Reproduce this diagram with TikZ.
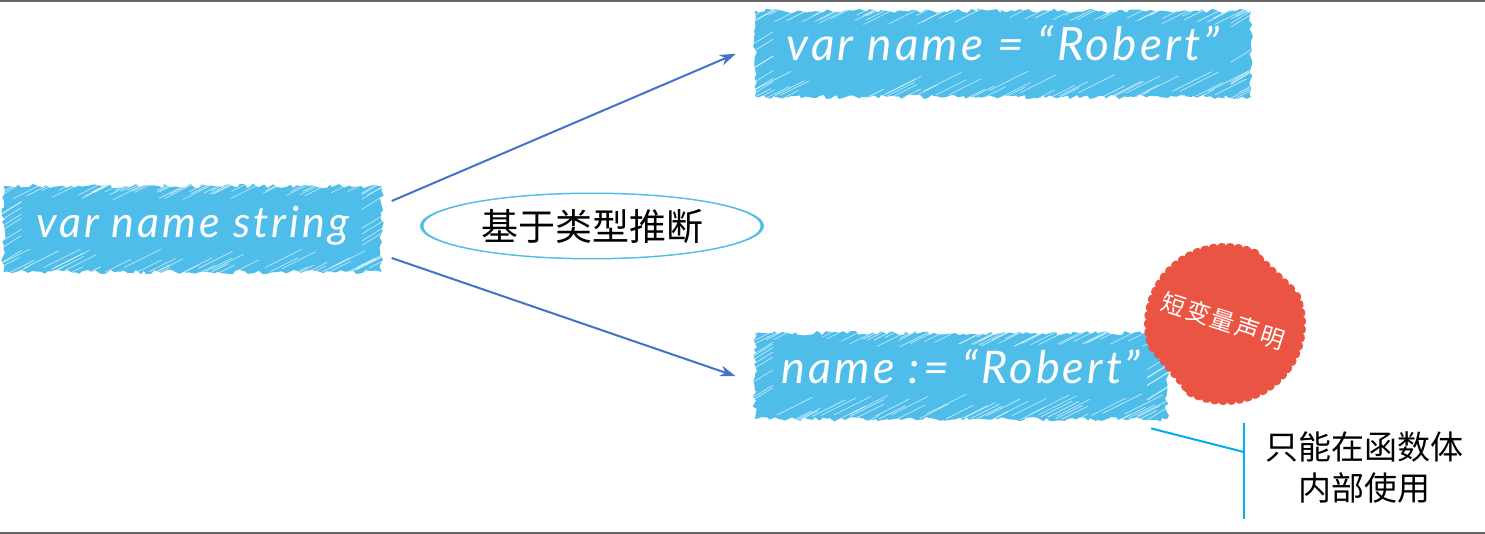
\documentclass[tikz,border=0pt]{standalone}
\usepackage{fontspec}
\setmainfont{Lato}
\newfontfamily\cjk{Noto Sans CJK SC}
\usetikzlibrary{calc,positioning,shapes.geometric,arrows.meta,decorations.pathmorphing}
\definecolor{skyfill}{HTML}{4FBDE9}
\definecolor{sealred}{HTML}{E95542}
\definecolor{arrowblue}{HTML}{4472C4}
\definecolor{noteblue}{HTML}{00AEEF}
\definecolor{framegray}{HTML}{666666}
\pgfmathsetseed{7}
\begin{document}
\begin{tikzpicture}[x=1pt,y=-1pt,
    hatch/.style={path picture={
      \foreach \X in {1,...,45} {
       \pgfmathsetmacro{\R}{rnd}
       \pgfmathsetmacro{\S}{rnd}
       \draw[white,line width=.7pt,opacity=.65]
        ($(path picture bounding box.north west)!\R!(path picture bounding box.north east)+(-12,{6+10*\S})$) -- ++({16+24*\S},{-8-12*\S});
       \pgfmathsetmacro{\R}{rnd}
       \pgfmathsetmacro{\S}{rnd}
       \draw[white,line width=.7pt,opacity=.65]
        ($(path picture bounding box.south west)!\R!(path picture bounding box.south east)+(-12,{2-10*\S})$) -- ++({16+24*\S},{-8-12*\S});
      }
      \foreach \X in {1,...,9} {
       \pgfmathsetmacro{\R}{rnd}
       \draw[white,line width=.7pt,opacity=.65]
        ($(path picture bounding box.south west)!\R!(path picture bounding box.north west)+(-6,0)$) -- ++(26,-16);
       \pgfmathsetmacro{\R}{rnd}
       \draw[white,line width=.7pt,opacity=.65]
        ($(path picture bounding box.south east)!\R!(path picture bounding box.north east)+(-22,0)$) -- ++(26,-16);
      }}},
    skybox/.style={fill=skyfill,hatch,inner sep=0pt,text=white,
      font=\itshape\fontsize{45}{45}\selectfont\addfontfeature{LetterSpace=7},
      text height=32pt,text depth=18pt,minimum height=86pt,
      decorate,decoration={random steps,segment length=4pt,amplitude=2.2pt}},
    arrowline/.style={draw=arrowblue,line width=2pt,-{Stealth[length=16pt,width=11pt]}},
    noteline/.style={draw=noteblue,line width=2pt}]
 \useasboundingbox (0,0) rectangle (1485,534);
 % frame
 \coordinate (topL) at (0,1);
 \coordinate (topR) at (1485,1);
 \coordinate (botL) at (0,533);
 \coordinate (botR) at (1485,533);
 \draw[framegray,line width=2.5pt] (topL) -- (topR) (botL) -- (botR);
 % three statements
 \node[skybox,minimum width=378pt,text depth=14pt,
   font=\itshape\fontsize{43}{43}\selectfont\addfontfeature{LetterSpace=7}] (VAR) at (192.5,229) {var name string};
 \node[skybox,minimum width=496pt,above right=132pt and 373pt of VAR.east,
   font=\itshape\fontsize{46}{46}\selectfont\addfontfeature{LetterSpace=7}] (DECL)
  {var name = “Robert”};
 \node[skybox,minimum width=412pt,below right=104pt and 373pt of VAR.east] (SHORT)
  {name := “Robert”};
 \path[arrowline] ([xshift=10pt,yshift=28pt]VAR.east) -- ([xshift=-19pt]DECL.west);
 \path[arrowline] ([xshift=10pt,yshift=-29pt]VAR.east) -- ([xshift=-19pt]SHORT.west);
 % label between the arrows
 \node[ellipse,fill=skyfill,minimum width=344pt,minimum height=67pt,inner sep=0pt] (RING) at (592,226) {};
 \node[ellipse,fill=white,minimum width=337pt,minimum height=64pt,inner sep=0pt,
   font=\cjk\fontsize{37}{37}\selectfont] (INFER) at (RING) {\raisebox{-4pt}{基于类型推断}};
 % seal
 \fill[sealred,decorate,decoration={bumps,segment length=17pt,amplitude=3pt}]
  ([shift={(24:78pt)}]1225,324) arc[start angle=24,end angle=-117,radius=78pt]
  -- ([shift={(197:78pt)}]1225,324) arc[start angle=197,end angle=69,radius=78pt] -- cycle;
 \node[rotate=-18,text=white,font=\cjk\fontsize{24}{24}\selectfont\addfontfeature{LetterSpace=8}] (SEAL)
  at (1223,321) {短变量声明};
 % note
 \node[minimum width=240pt,inner sep=0pt,align=center,font=\cjk\fontsize{33}{41}\selectfont] (NOTE)
  at (1364,468) {只能在函数体\\内部使用};
 \path[noteline] ([yshift=45pt]NOTE.west) -- ([yshift=-51pt]NOTE.west);
 \path[noteline] ([xshift=-16pt,yshift=-9pt]SHORT.south east) -- ([yshift=16pt]NOTE.west);
\end{tikzpicture}
\end{document}
